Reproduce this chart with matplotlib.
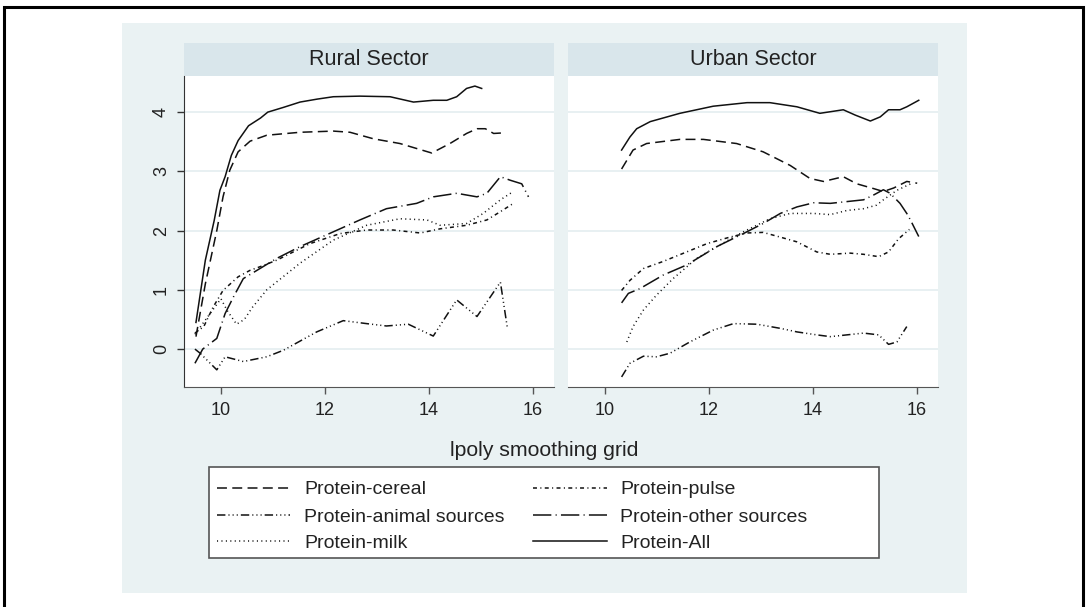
import matplotlib
matplotlib.use("Agg")
import matplotlib.pyplot as plt
from matplotlib.patches import Rectangle
from matplotlib.lines import Line2D

plt.rcParams['font.family'] = ['Liberation Sans', 'DejaVu Sans']

# ---- data (x = lpoly grid, y = smoothed value) ----
sectors = ["Rural Sector", "Urban Sector"]
series_names = ["Protein-cereal", "Protein-animal sources", "Protein-milk",
                "Protein-pulse", "Protein-other sources", "Protein-All"]
x_ticks = [10, 12, 14, 16]
y_ticks = [0, 1, 2, 3, 4]
x_label = "lpoly smoothing grid"

rural_cereal_x = [9.52, 9.7, 9.92, 10.04, 10.17, 10.33, 10.56, 10.88, 11.52, 12.16, 12.48, 12.93,
                  13.44, 14.05, 14.4, 14.72, 14.92, 15.08, 15.24, 15.43]
rural_cereal_y = [0.21, 1.1, 2.0, 2.57, 3.02, 3.33, 3.51, 3.61, 3.66, 3.68, 3.66, 3.55,
                  3.47, 3.31, 3.47, 3.64, 3.72, 3.72, 3.64, 3.65]
rural_animal_x = [9.5, 9.6, 9.92, 10.08, 10.43, 10.88, 11.2, 11.84, 12.35, 12.8, 13.18, 13.6,
                  14.08, 14.53, 14.92, 15.37, 15.5]
rural_animal_y = [0.0, -0.07, -0.35, -0.13, -0.21, -0.13, -0.02, 0.29, 0.48, 0.43, 0.39, 0.42,
                  0.22, 0.83, 0.55, 1.13, 0.38]
rural_milk_x = [9.5, 9.75, 10.0, 10.12, 10.3, 10.45, 10.6, 10.88, 11.52, 12.16, 12.8, 13.44,
                13.96, 14.21, 14.72, 15.04, 15.37, 15.6]
rural_milk_y = [0.25, 0.55, 0.85, 0.65, 0.42, 0.5, 0.7, 1.0, 1.45, 1.84, 2.09, 2.2,
                2.18, 2.09, 2.12, 2.29, 2.52, 2.65]
rural_pulse_x = [9.5, 9.67, 9.85, 10.04, 10.33, 10.56, 10.75, 11.07, 11.71, 12.29, 12.8, 13.31,
                 13.83, 14.21, 14.72, 15.11, 15.37, 15.62]
rural_pulse_y = [0.27, 0.38, 0.71, 0.99, 1.22, 1.33, 1.39, 1.5, 1.78, 1.95, 2.01, 2.01,
                 1.96, 2.03, 2.09, 2.18, 2.32, 2.46]
rural_other_x = [9.5, 9.65, 9.92, 10.08, 10.24, 10.43, 11.07, 11.52, 12.16, 12.67, 13.18, 13.76,
                 14.08, 14.53, 14.92, 15.11, 15.24, 15.37, 15.56, 15.78, 15.91]
rural_other_y = [-0.24, 0.0, 0.18, 0.6, 0.88, 1.19, 1.53, 1.73, 1.98, 2.18, 2.37, 2.46,
                 2.57, 2.63, 2.57, 2.63, 2.77, 2.91, 2.85, 2.79, 2.57]
rural_all_x = [9.52, 9.7, 9.87, 9.98, 10.08, 10.2, 10.33, 10.53, 10.76, 10.9, 11.2, 11.52, 11.85,
               12.16, 12.67, 13.25, 13.7, 14.08, 14.34, 14.53, 14.72, 14.88, 15.01]
rural_all_y = [0.45, 1.5, 2.17, 2.68, 2.91, 3.27, 3.52, 3.77, 3.9, 4.0, 4.08, 4.17, 4.22,
               4.26, 4.27, 4.26, 4.17, 4.20, 4.20, 4.26, 4.40, 4.44, 4.40]

urban_cereal_x = [10.32, 10.54, 10.8, 11.44, 11.89, 12.53, 13.04, 13.56, 13.94, 14.2, 14.58,
                  14.84, 15.16, 15.35, 15.55, 15.8, 16.0]
urban_cereal_y = [3.04, 3.36, 3.47, 3.54, 3.54, 3.47, 3.33, 3.10, 2.88, 2.83, 2.91,
                  2.79, 2.71, 2.66, 2.72, 2.83, 2.80]
urban_animal_x = [10.32, 10.48, 10.74, 10.99, 11.25, 11.63, 12.08, 12.47, 12.92, 13.37, 13.69,
                  14.07, 14.33, 14.65, 14.97, 15.26, 15.45, 15.61, 15.8]
urban_animal_y = [-0.47, -0.24, -0.12, -0.13, -0.07, 0.12, 0.32, 0.43, 0.42, 0.35, 0.29,
                  0.24, 0.21, 0.24, 0.27, 0.24, 0.08, 0.12, 0.38]
urban_milk_x = [10.42, 10.54, 10.74, 10.99, 11.31, 11.76, 12.15, 12.66, 13.17, 13.56, 14.01,
                14.33, 14.65, 14.97, 15.22, 15.35, 15.61, 15.9]
urban_milk_y = [0.12, 0.38, 0.66, 0.91, 1.19, 1.53, 1.73, 1.98, 2.20, 2.29, 2.29,
                2.27, 2.34, 2.37, 2.43, 2.52, 2.68, 2.80]
urban_pulse_x = [10.32, 10.48, 10.74, 11.12, 11.57, 11.96, 12.4, 12.73, 13.04, 13.37, 13.69,
                 14.07, 14.33, 14.71, 14.97, 15.26, 15.45, 15.64, 15.85]
urban_pulse_y = [0.99, 1.16, 1.36, 1.48, 1.64, 1.78, 1.89, 1.96, 1.97, 1.89, 1.81,
                 1.64, 1.60, 1.62, 1.60, 1.56, 1.64, 1.86, 2.02]
urban_other_x = [10.32, 10.45, 10.67, 11.12, 11.57, 11.89, 12.15, 12.66, 13.04, 13.37, 13.69,
                 14.01, 14.33, 14.65, 14.97, 15.16, 15.35, 15.48, 15.67, 15.8, 15.87, 16.03]
urban_other_y = [0.78, 0.94, 1.02, 1.25, 1.42, 1.59, 1.73, 1.95, 2.12, 2.29, 2.40,
                 2.47, 2.46, 2.49, 2.52, 2.60, 2.69, 2.63, 2.46, 2.29, 2.18, 1.90]
urban_all_x = [10.32, 10.48, 10.61, 10.87, 11.44, 12.08, 12.73, 13.17, 13.69, 14.13, 14.58,
               14.81, 15.1, 15.29, 15.45, 15.67, 15.8, 16.03]
urban_all_y = [3.36, 3.58, 3.72, 3.84, 3.98, 4.10, 4.16, 4.16, 4.09, 3.98, 4.04,
               3.95, 3.85, 3.92, 4.04, 4.04, 4.09, 4.20]

rural = [(rural_cereal_x, rural_cereal_y), (rural_animal_x, rural_animal_y),
         (rural_milk_x, rural_milk_y), (rural_pulse_x, rural_pulse_y),
         (rural_other_x, rural_other_y), (rural_all_x, rural_all_y)]
urban = [(urban_cereal_x, urban_cereal_y), (urban_animal_x, urban_animal_y),
         (urban_milk_x, urban_milk_y), (urban_pulse_x, urban_pulse_y),
         (urban_other_x, urban_other_y), (urban_all_x, urban_all_y)]

# Stata-like line patterns (in units of line width)
styles = [
    (0, (6.5, 3.5)),                               # cereal: dash
    (0, (5.5, 2, 0.7, 2, 0.7, 2, 0.7, 2)),          # animal: dash + 3 dots
    (0, (0.7, 2.2)),                               # milk: dotted
    (0, (2.6, 2.2, 0.7, 2.2)),                     # pulse: short dash-dot
    (0, (12, 2.8, 0.7, 2.8)),                      # other: long dash-dot
    '-',                                           # all: solid
]
line_col = '#111111'
line_w = 1.1

W, H = 1086, 607
fig = plt.figure(figsize=(W / 100, H / 100), dpi=100)


def fx(px):
    return px / W


def fy(py):
    return 1 - py / H


# outer plot region + frame
fig.patches.append(Rectangle((fx(122), fy(593)), fx(967) - fx(122), fy(23) - fy(593),
                             transform=fig.transFigure, facecolor='#eaf2f3',
                             edgecolor='none', zorder=-2))
fig.patches.append(Rectangle((fx(4), fy(640)), fx(1083) - fx(4), fy(7) - fy(640),
                             transform=fig.transFigure, fill=False, edgecolor='black',
                             linewidth=2.2, zorder=5))

panel_left = [184, 568]
panel_right = [554, 938]
ax_top, ax_bot = 76, 387
strip_top = 43

for i, (name, data) in enumerate(zip(sectors, [rural, urban])):
    l, r = panel_left[i], panel_right[i]
    ax = fig.add_axes([fx(l), fy(ax_bot), fx(r) - fx(l), fy(ax_top) - fy(ax_bot)])
    ax.set_facecolor('white')

    # header strip
    fig.patches.append(Rectangle((fx(l), fy(ax_top)), fx(r) - fx(l), fy(strip_top) - fy(ax_top),
                                 transform=fig.transFigure, facecolor='#d9e6eb',
                                 edgecolor='none', zorder=-1))
    fig.text((fx(l) + fx(r)) / 2, (fy(ax_top) + fy(strip_top)) / 2, name,
             ha='center', va='center', fontsize=15.5, color='#222222')

    for (xs, ys), ls in zip(data, styles):
        ax.plot(xs, ys, color=line_col, linewidth=line_w, linestyle=ls, dash_capstyle='butt')

    ax.set_xlim(9.29, 16.4)
    ax.set_ylim(-0.64, 4.61)
    ax.set_xticks(x_ticks)
    ax.set_yticks(y_ticks)
    ax.grid(axis='y', color='#e6eff1', linewidth=1.3)
    ax.set_axisbelow(True)
    for s in ['top', 'right']:
        ax.spines[s].set_visible(False)
    ax.spines['bottom'].set_color('#555555')
    ax.spines['left'].set_color('#333333')
    ax.tick_params(axis='x', length=5, width=1, color='#555555', labelsize=13,
                   labelcolor='#222222', pad=6)
    ax.tick_params(axis='y', length=5, width=1, color='#333333', labelsize=13,
                   labelcolor='#222222', pad=5)
    if i == 0:
        for t in ax.get_yticklabels():
            t.set_rotation(90)
            t.set_va('center')
    else:
        ax.spines['left'].set_visible(False)
        ax.tick_params(axis='y', left=False, labelleft=False)

fig.text(fx(544), fy(450), x_label, ha='center', va='center', fontsize=15.3, color='#222222')

# legend box drawn by hand to match the Stata layout
fig.patches.append(Rectangle((fx(209), fy(558)), fx(879) - fx(209), fy(467) - fy(558),
                             transform=fig.transFigure, facecolor='white',
                             edgecolor='#555555', linewidth=1.2, zorder=2))
row_y = [488, 515, 541]
col_handle = [(217, 290), (533, 607)]
col_text = [304, 620]
for k, (name, ls) in enumerate(zip(series_names, styles)):
    c, rw = divmod(k, 3)
    h0, h1 = col_handle[c]
    fig.add_artist(Line2D([fx(h0), fx(h1)], [fy(row_y[rw])] * 2, transform=fig.transFigure,
                          color=line_col, linewidth=line_w, linestyle=ls,
                          dash_capstyle='butt', zorder=3))
    fig.text(fx(col_text[c]), fy(row_y[rw]), name, ha='left', va='center_baseline',
             fontsize=14, color='#222222', zorder=3)

fig.savefig('out.png', dpi=100)
